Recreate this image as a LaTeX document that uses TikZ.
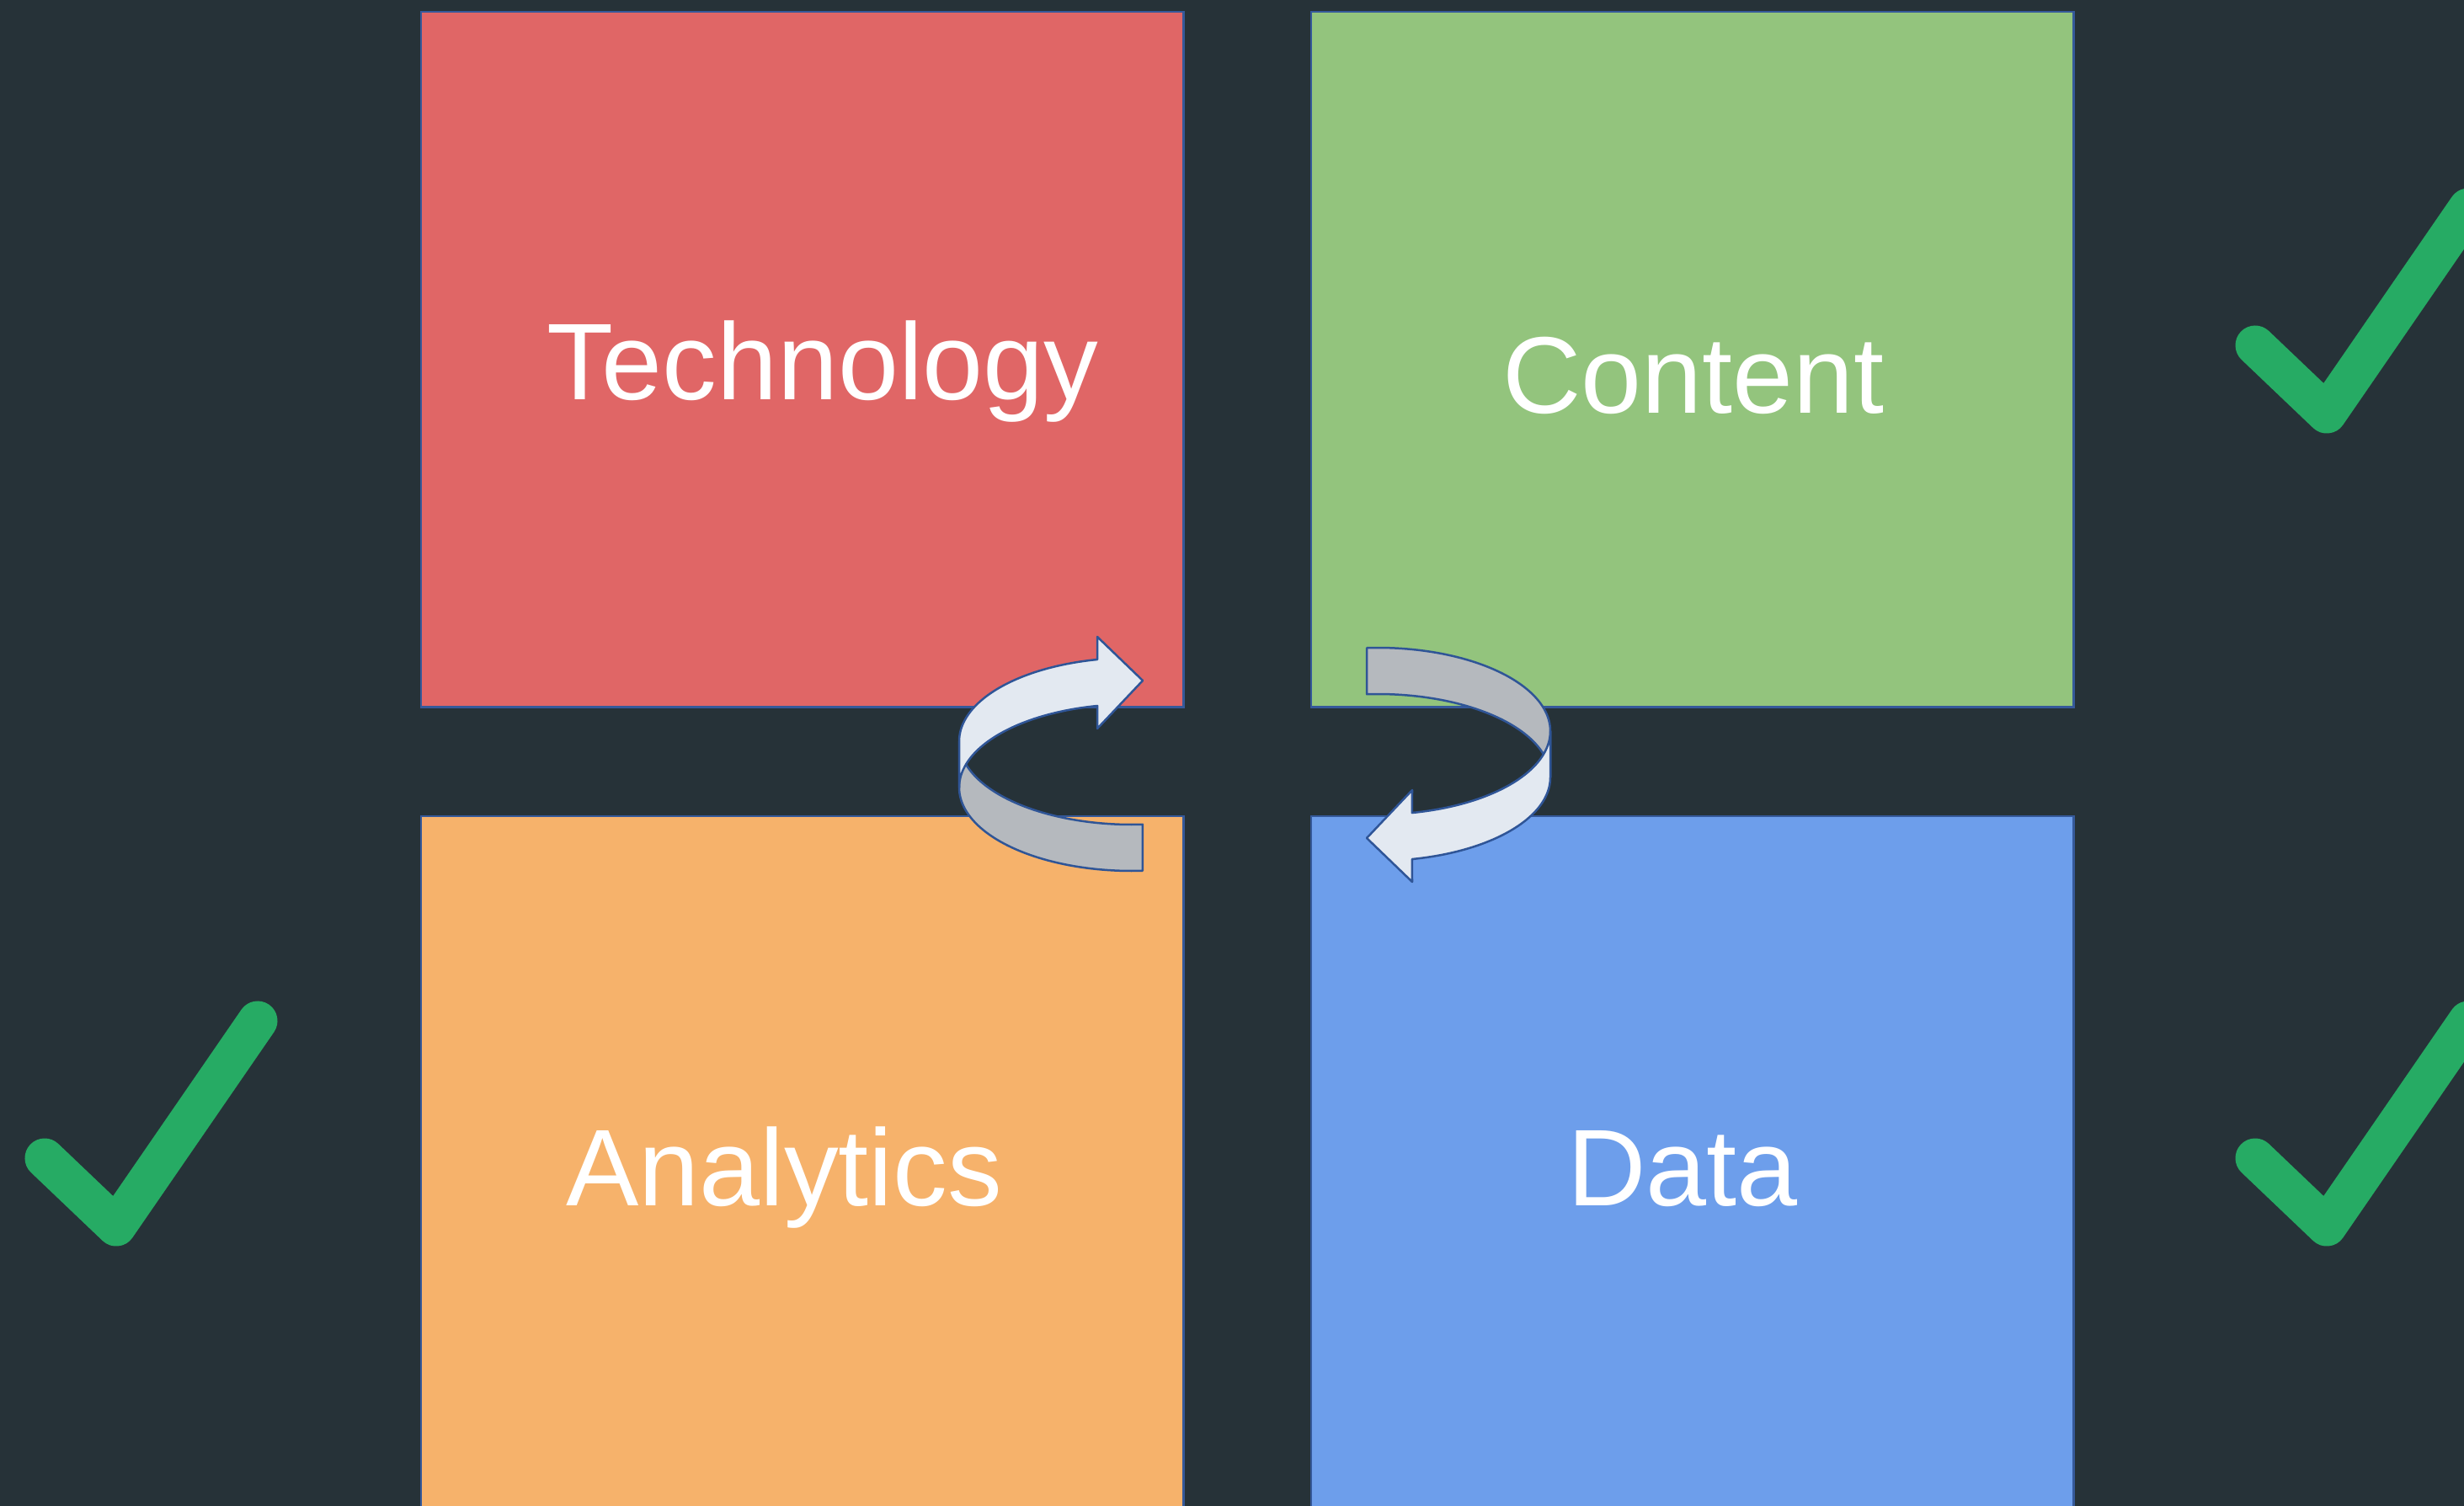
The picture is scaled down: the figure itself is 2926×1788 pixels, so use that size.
\documentclass[tikz,border=0pt]{standalone}
\usepackage{fontspec}
\setmainfont{Liberation Sans}
\definecolor{bg}{HTML}{263238}
\definecolor{techred}{HTML}{E06666}
\definecolor{contgreen}{HTML}{93C47D}
\definecolor{anaorange}{HTML}{F6B26B}
\definecolor{datablue}{HTML}{6D9EEB}
\definecolor{tileedge}{HTML}{35599A}
\definecolor{tickgreen}{HTML}{26AB64}
\definecolor{ribbonlight}{HTML}{E3E9F1}
\definecolor{ribbongrey}{HTML}{B5B9BE}
\definecolor{ribbonedge}{HTML}{2F5597}
\begin{document}
\begin{tikzpicture}[x=0.01cm,y=-0.01cm,
  tile/.style={draw=tileedge, line width=0.025cm, inner sep=0, outer sep=0,
    anchor=north west, minimum width=9.05cm},
  tiletext/.style={text=white, font=\fontsize{36.8pt}{44pt}\selectfont,
    anchor=base, inner sep=0},
  tick/.style={draw=tickgreen, line width=0.47cm, line cap=round, line join=round},
  ribbon/.style={draw=ribbonedge, line width=0.025cm, line join=round}]
% canvas
\fill[bg] (0,0) rectangle (2926,1788);
\useasboundingbox (0,0) rectangle (2926,1788);
\clip (0,0) rectangle (2926,1788);

% four tiles
\node[tile, fill=techred,   minimum height=8.25cm] (tech) at (500,14) {};
\node[tile, fill=contgreen, minimum height=8.25cm] (cont) at (1557,14) {};
\node[tile, fill=anaorange, minimum height=9.0cm]  (ana)  at (500,969) {};
\node[tile, fill=datablue,  minimum height=9.0cm]  (data) at (1557,969) {};

% tile captions
\node[tiletext] (ttech) at (977,475)  {Technology};
\node[tiletext] (tcont) at (2011,490) {Content};
\node[tiletext] (tana)  at (931,1431) {Analytics};
\node[tiletext] (tdata) at (1998,1431) {Data};

% two curved ribbon arrows, the second is the first turned half round
\foreach \r in {0,180}{
  \begin{scope}[rotate around={\r:(1490,901.5)}]
    % back half of the ribbon
    \draw[ribbon, fill=ribbongrey]
      plot[domain=180:86.4, samples=50] ({1344+205*cos(\x)},{880+99*sin(\x)})
      -- plot[domain=86.4:180, samples=50] ({1344+205*cos(\x)},{935+99*sin(\x)})
      -- cycle;
    % front half with the arrow head
    \draw[ribbon, fill=ribbonlight]
      plot[domain=-101.5:-180, samples=50] ({1344+205*cos(\x)},{880+99*sin(\x)})
      -- plot[domain=-180:-101.5, samples=50] ({1344+205*cos(\x)},{935+99*sin(\x)})
      -- (1303,865) -- (1357,808) -- (1303,756) -- cycle;
  \end{scope}
}

% check marks
\foreach \dx/\dy in {0/0, 2625/-965, 2625/0}
  \draw[tick, shift={(\dx,\dy)}] (53,1375) -- (138,1456) -- (306,1212);
\end{tikzpicture}
\end{document}
